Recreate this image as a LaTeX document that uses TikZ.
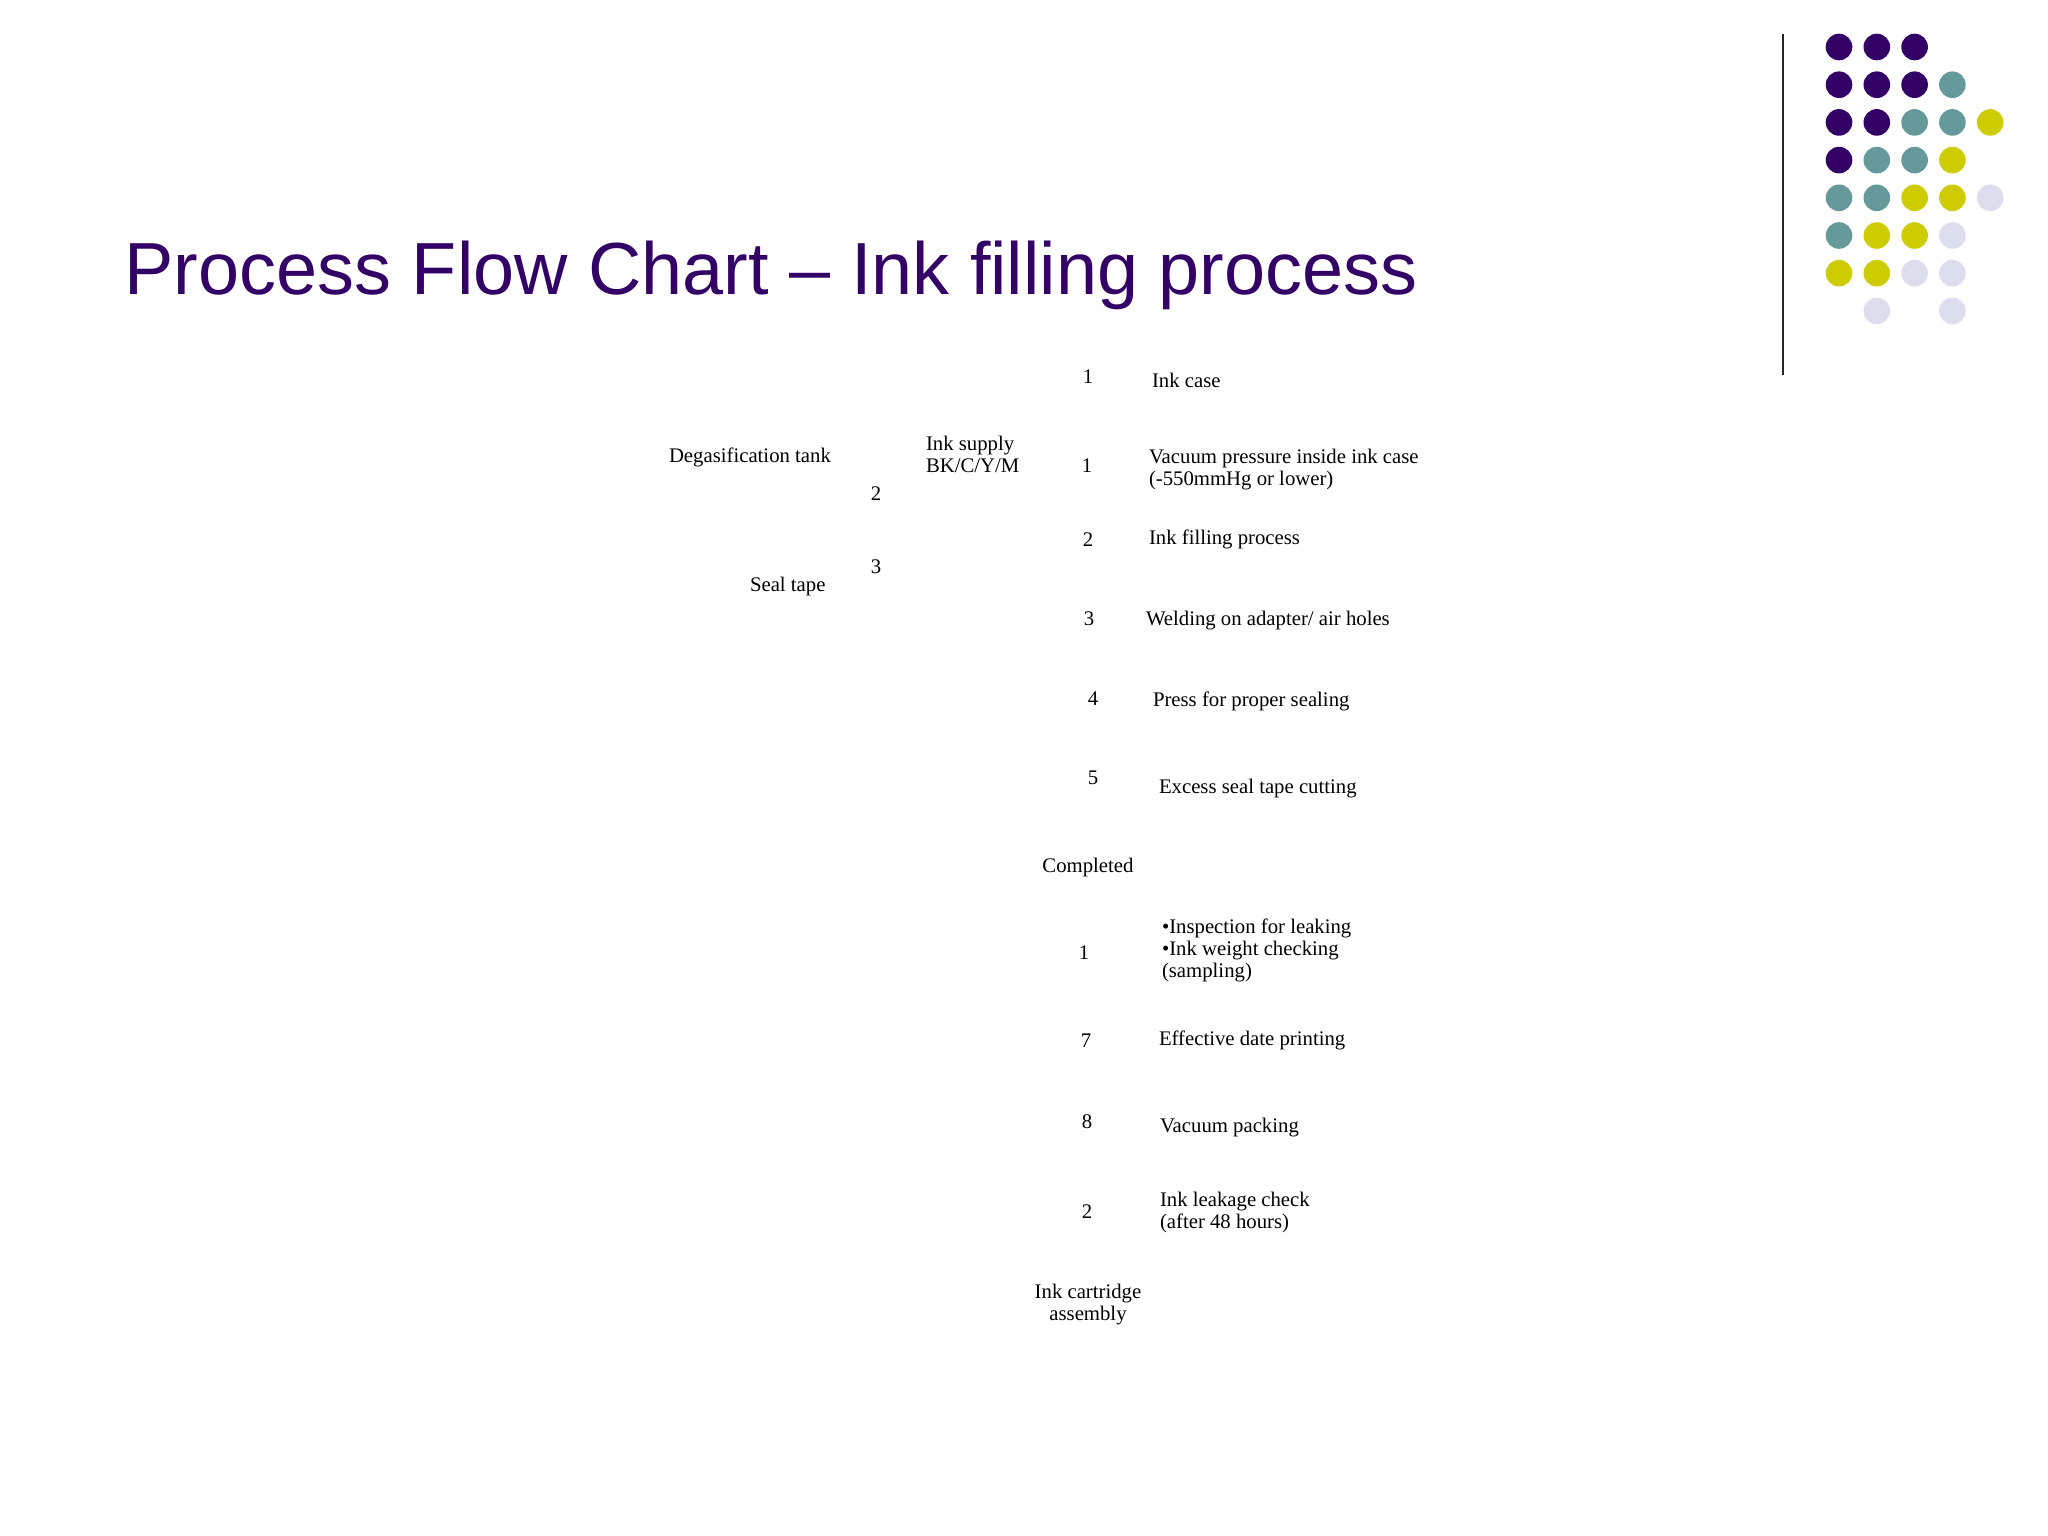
\documentclass[tikz,border=0pt]{standalone}
\usepackage{fontspec}
\setmainfont{Liberation Serif}
\newfontfamily\titlefont{Liberation Sans}
\definecolor{dpurple}{HTML}{330066}
\definecolor{dteal}{HTML}{669999}
\definecolor{dyellow}{HTML}{CCCC00}
\definecolor{dlav}{HTML}{DDDDEE}
\begin{document}
\begin{tikzpicture}[x=0.01cm,y=-0.01cm,
  lbl/.style={inner sep=0pt,outer sep=0pt,font=\fontsize{5.9pt}{6.25pt}\selectfont,align=left,anchor=base west},
  num/.style={inner sep=0pt,outer sep=0pt,font=\fontsize{5.9pt}{6.25pt}\selectfont,anchor=base},
  ctr/.style={inner sep=0pt,outer sep=0pt,font=\fontsize{5.9pt}{6.25pt}\selectfont,align=center,anchor=base},
  dot/.style={radius=0.133cm}]
\useasboundingbox[fill=white] (0,0) rectangle (2048,1536);
% title
\node[inner sep=0pt,anchor=base west,text=dpurple,font=\titlefont\fontsize{21pt}{24pt}\selectfont] (title) at (124,294) {Process Flow Chart – Ink filling process};
% vertical rule
\draw[line width=0.6pt,black!85] (1783,34) -- (1783,375);
% dots
\foreach \c/\r/\col in {
 1/1/dpurple,2/1/dpurple,3/1/dpurple,
 1/2/dpurple,2/2/dpurple,3/2/dpurple,4/2/dteal,
 1/3/dpurple,2/3/dpurple,3/3/dteal,4/3/dteal,5/3/dyellow,
 1/4/dpurple,2/4/dteal,3/4/dteal,4/4/dyellow,
 1/5/dteal,2/5/dteal,3/5/dyellow,4/5/dyellow,5/5/dlav,
 1/6/dteal,2/6/dyellow,3/6/dyellow,4/6/dlav,
 1/7/dyellow,2/7/dyellow,3/7/dlav,4/7/dlav,
 2/8/dlav,4/8/dlav}
 {\fill[\col] ({1839+(\c-1)*37.8},{47+(\r-1)*37.7}) circle[dot];}
% left labels (multi-line nodes are placed by their last baseline)
\node[lbl] (degas) at (669,462) {Degasification tank};
\node[lbl] (supply) at (926,472) {Ink supply\\BK/C/Y/M};
\node[num] (n2a) at (876,500) {2};
\node[num] (n3a) at (876,573) {3};
\node[lbl] (seal) at (750,591) {Seal tape};
% numbers column
\node[num] (s1) at (1088,383) {1};
\node[num] (s2) at (1087,472) {1};
\node[num] (s3) at (1088,546) {2};
\node[num] (s4) at (1089,625) {3};
\node[num] (s5) at (1093,705) {4};
\node[num] (s6) at (1093,784) {5};
\node[num] (done) at (1088,872) {Completed};
\node[num] (s7) at (1084,959) {1};
\node[num] (s8) at (1086,1047) {7};
\node[num] (s9) at (1087,1128) {8};
\node[num] (s10) at (1087,1218) {2};
\node[ctr] (cart) at (1088,1320) {Ink cartridge\\assembly};
% descriptions
\node[lbl] (d1) at (1152,387) {Ink case};
\node[lbl] (d2) at (1149,485) {Vacuum pressure inside ink case\\(-550mmHg or lower)};
\node[lbl] (d3) at (1149,544) {Ink filling process};
\node[lbl] (d4) at (1146,625) {Welding on adapter/ air holes};
\node[lbl] (d5) at (1153,706) {Press for proper sealing};
\node[lbl] (d6) at (1159,793) {Excess seal tape cutting};
\node[lbl] (d7) at (1162,977) {\textbullet Inspection for leaking\\\textbullet Ink weight checking\\(sampling)};
\node[lbl] (d8) at (1159,1045) {Effective date printing};
\node[lbl] (d9) at (1160,1132) {Vacuum packing};
\node[lbl] (d10) at (1160,1228) {Ink leakage check\\(after 48 hours)};
\end{tikzpicture}
\end{document}
